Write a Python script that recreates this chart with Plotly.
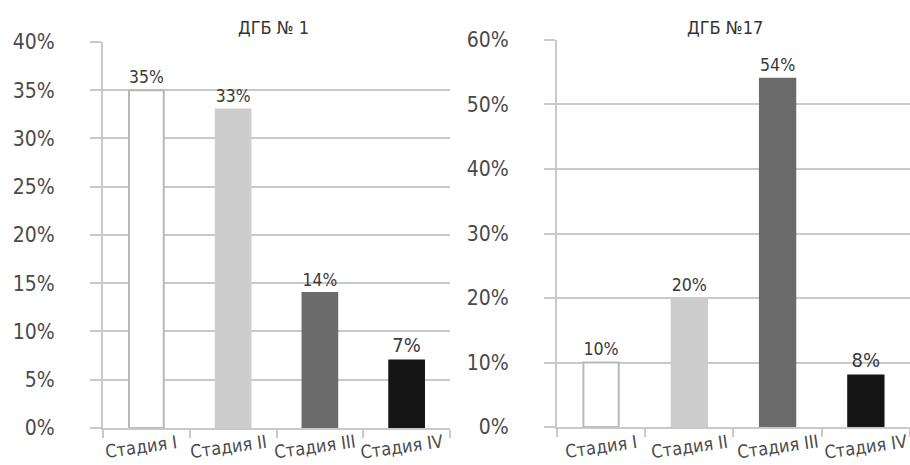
import plotly.graph_objects as go

# Stage distribution, two hospitals
stages = ["Стадия I", "Стадия II", "Стадия III", "Стадия IV"]
hosp1_values = [35, 33, 14, 7]
hosp17_values = [10, 20, 54, 8]
titles = ["ДГБ № 1", "ДГБ №17"]

bar_fill = ["#ffffff", "#cdcdcd", "#6b6b6b", "#151515"]
bar_edge = ["#b8b8b8", "#cdcdcd", "#6b6b6b", "#151515"]

FONT = "DejaVu Sans Condensed, Liberation Sans Narrow, sans-serif"
GRID = "#c9c9c9"
TXT = "#4a4a4a"

fig = go.Figure()

for i, vals in enumerate([hosp1_values, hosp17_values]):
    xa = "x" if i == 0 else "x2"
    ya = "y" if i == 0 else "y2"
    fig.add_trace(go.Bar(
        x=stages, y=vals, xaxis=xa, yaxis=ya, width=0.4,
        marker=dict(color=bar_fill, line=dict(color=bar_edge, width=2)),
        text=[f"{v}%" for v in vals], textposition="outside",
        textfont=dict(family=FONT, size=20, color="#3a3a3a"),
        cliponaxis=False, showlegend=False,
    ))

common_x = dict(
    type="category", range=[-0.5, 3.5], showgrid=False, automargin=False,
    showline=True, linecolor=GRID, linewidth=2, showticklabels=False,
    ticks="outside", tickson="boundaries", ticklen=8, tickcolor=GRID, tickwidth=2,
)
common_y = dict(
    showgrid=True, gridcolor=GRID, gridwidth=2, zeroline=False, automargin=False,
    showline=True, linecolor=GRID, linewidth=2,
    ticks="outside", ticklen=11, tickcolor=GRID, tickwidth=2,
    ticksuffix="%", tickfont=dict(family=FONT, size=21, color=TXT),
)

annotations = [
    dict(text=titles[0], x=273 / 910, y=1 - 27 / 465, xref="paper", yref="paper",
         xanchor="center", yanchor="middle", showarrow=False,
         font=dict(family=FONT, size=18, color="#333")),
    dict(text=titles[1], x=725 / 910, y=1 - 27 / 465, xref="paper", yref="paper",
         xanchor="center", yanchor="middle", showarrow=False,
         font=dict(family=FONT, size=18, color="#333")),
]
# slightly tilted category labels under each bar
for xref, shift in (("x", -5), ("x2", 0)):
    for s in stages:
        annotations.append(dict(
            text=s, x=s, xref=xref, y=1 - 446 / 465, yref="paper",
            xanchor="center", yanchor="middle", textangle=-8, showarrow=False,
            xshift=shift, font=dict(family=FONT, size=18, color=TXT),
        ))

fig.update_layout(
    width=910, height=465, margin=dict(l=0, r=0, t=0, b=0),
    paper_bgcolor="white", plot_bgcolor="white",
    xaxis=dict(domain=[0.1132, 0.4945], anchor="y", **common_x),
    xaxis2=dict(domain=[0.612, 1.0], anchor="y2", **common_x),
    yaxis=dict(domain=[0.0796, 0.9097], anchor="x", range=[0, 40], dtick=5,
               ticklabelstandoff=31, **common_y),
    yaxis2=dict(domain=[0.0817, 0.914], anchor="x2", range=[0, 60], dtick=10,
                ticklabelstandoff=31, **common_y),
    annotations=annotations,
)

fig.write_html("out.html")
